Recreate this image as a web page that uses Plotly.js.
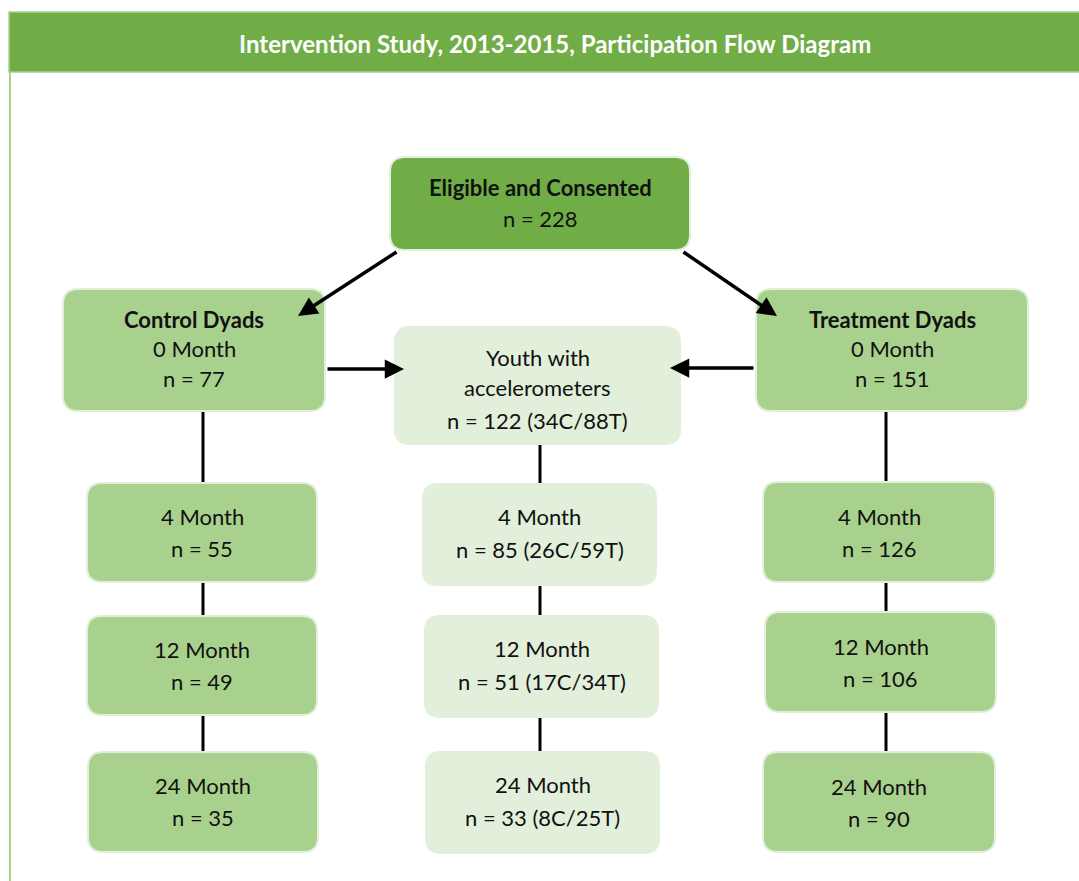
<!DOCTYPE html>
<html>
<head>
<meta charset="utf-8">
<script src="https://cdn.plot.ly/plotly-3.0.1.min.js"></script>
<style>
  html, body { margin: 0; padding: 0; background: #ffffff; }
  #chart { width: 1079px; height: 881px; }
</style>
</head>
<body>
<div id="chart"></div>
<script>
// ---- Data ----
const chartTitle = "Intervention Study, 2013-2015, Participation Flow Diagram";
const rootLabel = "Eligible and Consented";
const rootN = 228;
const controlLabel = "Control Dyads";
const treatmentLabel = "Treatment Dyads";
const youthLabelLines = ["Youth with", "accelerometers"];
const stages = ["0 Month", "4 Month", "12 Month", "24 Month"];
const controlN = [77, 55, 49, 35];
const treatmentN = [151, 126, 106, 90];
const youthN = [122, 85, 51, 33];
const youthC = [34, 26, 17, 8];
const youthT = [88, 59, 34, 25];

// ---- Styles / layout geometry (pixels) ----
const DARK = "#70AD47", MID = "#A9D18E", LIGHT = "#E2EFDA";
const FONT = "Lato, 'Open Sans', sans-serif";
const FS = 22;

function rr(x0, y0, x1, y1, r) {
  return `M${x0+r},${y0} L${x1-r},${y0} Q${x1},${y0} ${x1},${y0+r} L${x1},${y1-r} Q${x1},${y1} ${x1-r},${y1} L${x0+r},${y1} Q${x0},${y1} ${x0},${y1-r} L${x0},${y0+r} Q${x0},${y0} ${x0+r},${y0} Z`;
}

const shapes = [];
const annotations = [];

// header band & frame
shapes.push({type: "rect", xref: "x", yref: "y", x0: 9, x1: 1085, y0: 12, y1: 72,
  fillcolor: DARK, line: {color: MID, width: 1.5}, layer: "below"});
shapes.push({type: "line", xref: "x", yref: "y", x0: 10, x1: 10, y0: 72, y1: 885,
  line: {color: MID, width: 2}});
annotations.push({x: 555, y: 43, xref: "x", yref: "y", showarrow: false,
  text: "<b>" + chartTitle + "</b>", font: {family: FONT, size: 24, color: "#ffffff"}});

function box(x0, y0, x1, y1, fill, lines, lineYs) {
  shapes.push({type: "path", xref: "x", yref: "y", path: rr(x0, y0, x1, y1, 15),
    fillcolor: fill, line: {color: LIGHT, width: 2}, layer: "above"});
  lines.forEach((t, i) => {
    annotations.push({x: (x0 + x1) / 2, y: lineYs[i], xref: "x", yref: "y", showarrow: false,
      text: t, font: {family: FONT, size: FS, color: "#111111"}});
  });
}

// root
box(390, 157, 690, 250, DARK, ["<b>" + rootLabel + "</b>", "n = " + rootN], [187, 218]);
// group boxes (0 month)
box(63, 289, 325, 411, MID, ["<b>" + controlLabel + "</b>", stages[0], "n = " + controlN[0]], [319, 348, 378]);
box(756, 289, 1028, 411, MID, ["<b>" + treatmentLabel + "</b>", stages[0], "n = " + treatmentN[0]], [319, 348, 378]);
box(395, 327, 680, 444, LIGHT, [youthLabelLines[0], youthLabelLines[1],
  "n = " + youthN[0] + " (" + youthC[0] + "C/" + youthT[0] + "T)"], [357, 387, 420]);

// follow-up boxes
const ctrlBoxes = [[87, 483, 317, 582], [87, 616, 317, 715], [88, 752, 318, 852]];
const youthBoxes = [[423, 484, 656, 585], [425, 616, 658, 717], [426, 752, 659, 853]];
const trtBoxes = [[763, 482, 995, 582], [765, 612, 996, 712], [763, 752, 995, 852]];

for (let i = 1; i < stages.length; i++) {
  const c = ctrlBoxes[i - 1], y = youthBoxes[i - 1], t = trtBoxes[i - 1];
  box(c[0], c[1], c[2], c[3], MID, [stages[i], "n = " + controlN[i]], [c[1] + 33, c[1] + 65]);
  box(y[0], y[1], y[2], y[3], LIGHT, [stages[i], "n = " + youthN[i] + " (" + youthC[i] + "C/" + youthT[i] + "T)"], [y[1] + 32, y[1] + 65]);
  box(t[0], t[1], t[2], t[3], MID, [stages[i], "n = " + treatmentN[i]], [t[1] + 34, t[1] + 66]);
}

// vertical connectors
function vline(x, y0, y1) {
  shapes.push({type: "line", xref: "x", yref: "y", x0: x, x1: x, y0: y0, y1: y1,
    line: {color: "#000000", width: 3}, layer: "below"});
}
vline(203, 411, 483); vline(203, 582, 616); vline(203, 715, 752);
vline(540, 444, 484); vline(540, 585, 616); vline(540, 717, 752);
vline(886, 411, 482); vline(886, 582, 612); vline(886, 712, 752);

// arrows
function arrow(tx, ty, hx, hy) {
  annotations.push({x: hx, y: hy, ax: tx, ay: ty, xref: "x", yref: "y", axref: "x", ayref: "y",
    showarrow: true, arrowhead: 2, arrowsize: 1.1, arrowwidth: 3.5, arrowcolor: "#000000", text: ""});
}
arrow(398, 251, 298, 316);
arrow(682, 251, 777, 316);
arrow(326, 369, 404, 369);
arrow(755, 368, 670, 368);

const layout = {
  width: 1079, height: 881,
  margin: {l: 0, r: 0, t: 0, b: 0},
  paper_bgcolor: "#ffffff", plot_bgcolor: "#ffffff",
  xaxis: {range: [0, 1079], visible: false, fixedrange: true},
  yaxis: {range: [881, 0], visible: false, fixedrange: true},
  showlegend: false,
  shapes: shapes,
  annotations: annotations
};

Plotly.newPlot("chart", [{x: [], y: [], type: "scatter", mode: "markers", hoverinfo: "skip"}], layout,
  {displayModeBar: false, staticPlot: true});
</script>
</body>
</html>
